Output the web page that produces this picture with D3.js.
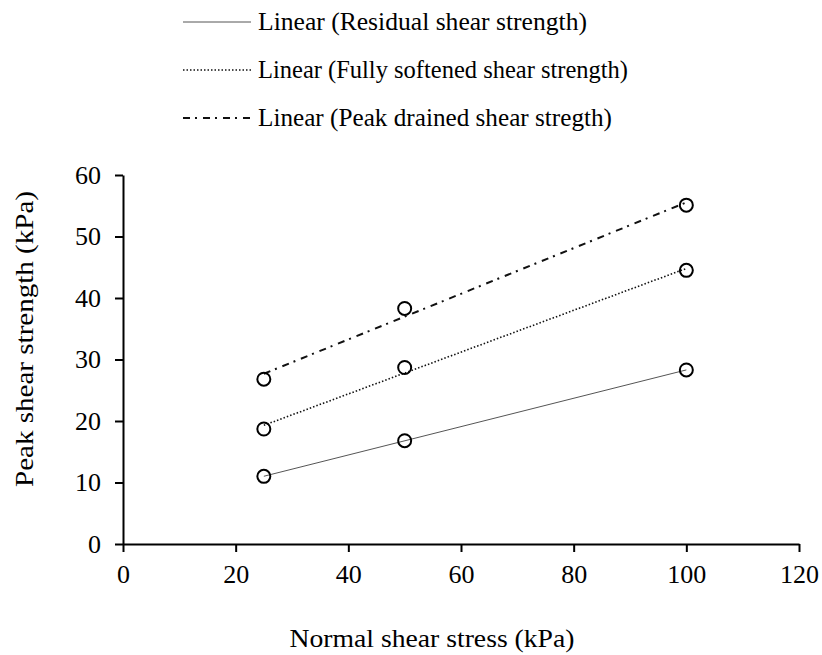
<!DOCTYPE html>
<html>
<head>
<meta charset="utf-8">
<script src="https://cdn.jsdelivr.net/npm/d3@7"></script>
<style>
  html, body { margin: 0; padding: 0; background: #fff; }
  svg { display: block; font-family: "Liberation Serif", "Times New Roman", serif; }
</style>
</head>
<body>
<svg id="chart" width="822" height="655"></svg>
<script>
// Normal stress levels (kPa)
const normalStress = [25, 50, 100];
// Measured shear strengths (kPa) for each series
const residual = [11.0, 16.8, 28.3];
const fullySoftened = [18.7, 28.7, 44.5];
const peakDrained = [26.8, 38.3, 55.1];

const seriesNames = [
  "Linear (Residual shear strength)",
  "Linear (Fully softened shear strength)",
  "Linear (Peak drained shear stregth)"
];
const xTicks = [0, 20, 40, 60, 80, 100, 120];
const yTicks = [0, 10, 20, 30, 40, 50, 60];

const FONT = '"Liberation Serif", "Times New Roman", serif';

const series = [
  { name: seriesNames[0], values: residual, dash: null, width: 1, color: "#555" },
  { name: seriesNames[1], values: fullySoftened, dash: "1.5,2", width: 1.6, color: "#111" },
  { name: seriesNames[2], values: peakDrained, dash: "7,5,2,6", width: 2, color: "#111" }
];

const svg = d3.select("#chart");
const margin = { left: 123, right: 23, top: 175, bottom: 111 };
const W = 822, H = 655;

const x = d3.scaleLinear().domain([0, 120]).range([margin.left, W - margin.right]);
const y = d3.scaleLinear().domain([0, 60]).range([H - margin.bottom, margin.top]);

// Least-squares trend line through each series
function fit(xs, ys) {
  const mx = d3.mean(xs), my = d3.mean(ys);
  let sxy = 0, sxx = 0;
  xs.forEach((xi, i) => { sxy += (xi - mx) * (ys[i] - my); sxx += (xi - mx) * (xi - mx); });
  const b = sxy / sxx;
  return { a: my - b * mx, b };
}

// Axes
const xAxis = svg.append("g")
  .attr("transform", `translate(0,${y(0)})`)
  .call(d3.axisBottom(x).tickValues(xTicks).tickSize(8).tickPadding(13).tickSizeOuter(0));
const yAxis = svg.append("g")
  .attr("transform", `translate(${x(0)},0)`)
  .call(d3.axisLeft(y).tickValues(yTicks).tickSize(8).tickPadding(14).tickSizeOuter(0));

[xAxis, yAxis].forEach(g => {
  g.attr("font-family", FONT);
  g.select(".domain").attr("stroke", "#000").attr("stroke-width", 2);
  g.selectAll(".tick line").attr("stroke", "#000").attr("stroke-width", 2);
  g.selectAll(".tick text")
    .attr("fill", "#000")
    .style("font-family", FONT)
    .style("font-size", "26px");
});

// Axis titles
svg.append("text")
  .attr("x", 432)
  .attr("y", 647)
  .attr("text-anchor", "middle")
  .attr("textLength", 285)
  .attr("lengthAdjust", "spacingAndGlyphs")
  .style("font-size", "26px")
  .text("Normal shear stress (kPa)");

svg.append("text")
  .attr("transform", `translate(33,339) rotate(-90)`)
  .attr("text-anchor", "middle")
  .attr("textLength", 296)
  .attr("lengthAdjust", "spacingAndGlyphs")
  .style("font-size", "26px")
  .text("Peak shear strength (kPa)");

// Trend lines
series.forEach(s => {
  const f = fit(normalStress, s.values);
  const x0 = d3.min(normalStress), x1 = d3.max(normalStress);
  svg.append("line")
    .attr("x1", x(x0)).attr("y1", y(f.a + f.b * x0))
    .attr("x2", x(x1)).attr("y2", y(f.a + f.b * x1))
    .attr("stroke", s.color)
    .attr("stroke-width", s.width)
    .attr("stroke-dasharray", s.dash);
});

// Data markers
series.forEach(s => {
  svg.append("g").selectAll("circle")
    .data(normalStress.map((n, i) => [n, s.values[i]]))
    .join("circle")
    .attr("cx", d => x(d[0]))
    .attr("cy", d => y(d[1]))
    .attr("r", 6.5)
    .attr("fill", "none")
    .attr("stroke", "#000")
    .attr("stroke-width", 2);
});

// Legend
const legendWidths = [329, 370, 354];
const legend = svg.append("g");
series.forEach((s, i) => {
  const ly = 22 + i * 48;
  legend.append("line")
    .attr("x1", 183).attr("x2", 251)
    .attr("y1", ly).attr("y2", ly)
    .attr("stroke", s.color)
    .attr("stroke-width", s.width)
    .attr("stroke-dasharray", s.dash);
  legend.append("text")
    .attr("x", 258)
    .attr("y", ly + 8)
    .attr("textLength", legendWidths[i])
    .attr("lengthAdjust", "spacingAndGlyphs")
    .style("font-size", "26px")
    .text(s.name);
});
</script>
</body>
</html>
